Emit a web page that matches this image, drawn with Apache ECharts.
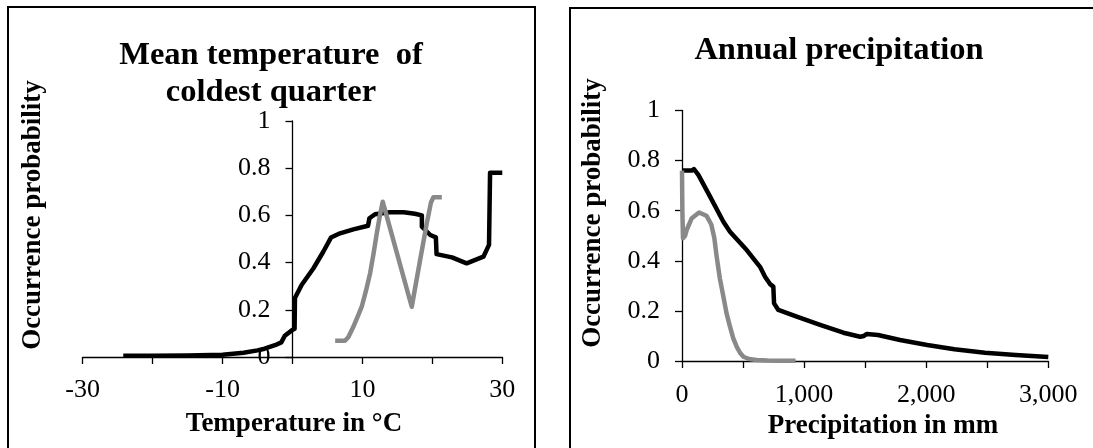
<!DOCTYPE html>
<html><head><meta charset="utf-8">
<script src="https://cdn.jsdelivr.net/npm/echarts@6/dist/echarts.min.js"></script>
<style>html,body{margin:0;padding:0;background:#fff}#c{width:1093px;height:448px}</style>
</head><body><div id="c"></div>
<script>
// ---- Left chart: Mean temperature of coldest quarter ----
const tempBlackT = [-24.2,-20,-15,-10,-7,-5,-4,-2.5,-1.6,-1.1,0.0,0.3,0.35,1.3,3.0,4.4,5.5,6.8,8.7,10.8,11.0,11.8,13.9,15.9,17.5,18.5,18.5,19.7,20.5,20.6,22.8,24.9,27.3,28.1,28.25,30.0];
const tempBlackP = [0.005,0.005,0.006,0.01,0.018,0.028,0.035,0.05,0.062,0.09,0.115,0.12,0.25,0.305,0.376,0.446,0.506,0.524,0.541,0.556,0.588,0.605,0.613,0.613,0.607,0.600,0.552,0.517,0.507,0.436,0.422,0.397,0.425,0.475,0.781,0.781];
const tempGrayT = [6.1,7.5,8.0,8.7,9.3,9.9,10.5,11.1,11.6,12.05,12.5,12.9,14.9,17.05,18.25,19.2,19.8,20.15,21.35];
const tempGrayP = [0.069,0.069,0.085,0.128,0.17,0.213,0.28,0.355,0.44,0.524,0.6,0.658,0.443,0.213,0.411,0.566,0.655,0.677,0.677];
const tempTickValues = [-30,-10,10,30];
const tempTickLabels = ['-30','-10','10','30'];

// ---- Right chart: Annual precipitation ----
const precBlackMM = [0,80,98,134,230,339,393,530,639,680,721,748,754,789,940,1131,1322,1459,1490,1514,1605,1786,2008,2231,2481,2732,3000];
const precBlackP = [0.760,0.760,0.766,0.743,0.656,0.556,0.516,0.443,0.376,0.336,0.307,0.297,0.23,0.204,0.177,0.144,0.113,0.097,0.1,0.108,0.104,0.084,0.064,0.047,0.033,0.024,0.016];
const precGrayMM = [0,3,8,25,40,80,140,200,240,265,284,310,339,365,393,420,448,475,503,550,612,700,800,930];
const precGrayP = [0.76,0.6,0.49,0.5,0.525,0.57,0.593,0.58,0.545,0.49,0.416,0.33,0.257,0.19,0.137,0.09,0.057,0.033,0.017,0.008,0.004,0.002,0.001,0.001];
const precTickValues = [0,1000,2000,3000];
const precTickLabels = ['0','1,000','2,000','3,000'];

const probTickLabels = ['0','0.2','0.4','0.6','0.8','1'];

const FONT = '"Liberation Serif","Times New Roman",serif';
const zip = (a,b) => a.map((v,i)=>[v,b[i]]);
const lab = (vals, labels) => v => { const i = vals.findIndex(t => Math.abs(t - v) < 1e-6); return i >= 0 ? labels[i] : ''; };

const axisCommon = {
  splitLine:{show:false},
  axisLine:{show:true, onZero:false, lineStyle:{color:'#000', width:1.3}},
  axisTick:{show:true, length:7, inside:false, lineStyle:{color:'#000', width:1.3}},
};

const chart = echarts.init(document.getElementById('c'), null, {renderer:'canvas'});
chart.setOption({
  animation:false,
  backgroundColor:'#fff',
  grid:[
    {left:82.7, top:121, width:419.6, height:236},
    {left:682, top:110.5, width:366.3, height:250.5}
  ],
  xAxis:[
    Object.assign({type:'value', gridIndex:0, min:-30, max:30, interval:10,
      axisLabel:{margin:20, color:'#000', fontFamily:FONT, fontSize:26, formatter:lab(tempTickValues,tempTickLabels)}}, axisCommon),
    Object.assign({type:'value', gridIndex:1, min:0, max:3000, interval:500,
      axisLabel:{margin:21, color:'#000', fontFamily:FONT, fontSize:26, formatter:lab(precTickValues,precTickLabels)}}, axisCommon)
  ],
  yAxis:[
    // y axis crosses the x axis at 0 °C
    Object.assign({}, axisCommon, {type:'value', gridIndex:0, min:0, max:1, interval:0.2, position:'left', offset:-209.8,
      axisLabel:{margin:22, color:'#000', fontFamily:FONT, fontSize:26, formatter:v=>probTickLabels[Math.round(v/0.2)]}}),
    Object.assign({}, axisCommon, {type:'value', gridIndex:1, min:0, max:1, interval:0.2,
      axisLabel:{margin:22, color:'#000', fontFamily:FONT, fontSize:26, formatter:v=>probTickLabels[Math.round(v/0.2)]}})
  ],
  series:[
    {type:'line', xAxisIndex:0, yAxisIndex:0, data:zip(tempBlackT,tempBlackP), showSymbol:false, clip:false,
      lineStyle:{color:'#000', width:4.5, join:'round', cap:'butt'}},
    {type:'line', xAxisIndex:0, yAxisIndex:0, data:zip(tempGrayT,tempGrayP), showSymbol:false, clip:false,
      lineStyle:{color:'#898989', width:4.5, join:'round', cap:'butt'}},
    {type:'line', xAxisIndex:1, yAxisIndex:1, data:zip(precBlackMM,precBlackP), showSymbol:false, clip:false,
      lineStyle:{color:'#000', width:4.5, join:'round', cap:'butt'}},
    {type:'line', xAxisIndex:1, yAxisIndex:1, data:zip(precGrayMM,precGrayP), showSymbol:false, clip:false,
      lineStyle:{color:'#898989', width:4.5, join:'round', cap:'butt'}}
  ],
  graphic:[
    {type:'rect', shape:{x:8, y:7, width:527, height:470}, style:{fill:'none', stroke:'#000', lineWidth:2}, silent:true},
    {type:'rect', shape:{x:570, y:8, width:600, height:470}, style:{fill:'none', stroke:'#000', lineWidth:2}, silent:true},
    {type:'text', x:271, y:37, style:{text:'Mean temperature  of\ncoldest quarter', fontFamily:FONT, fontSize:32.5, fontWeight:'bold', lineHeight:37, fill:'#000', align:'center', verticalAlign:'top'}, silent:true},
    {type:'text', x:839, y:51, style:{text:'Annual precipitation', fontFamily:FONT, fontSize:32.5, fontWeight:'bold', fill:'#000', align:'center', verticalAlign:'middle'}, silent:true},
    {type:'text', x:294, y:424, style:{text:'Temperature in °C', fontFamily:FONT, fontSize:27, fontWeight:'bold', fill:'#000', align:'center', verticalAlign:'middle'}, silent:true},
    {type:'text', x:883, y:426, style:{text:'Precipitation in mm', fontFamily:FONT, fontSize:27, fontWeight:'bold', fill:'#000', align:'center', verticalAlign:'middle'}, silent:true},
    {type:'text', x:33, y:215, rotation:Math.PI/2, style:{text:'Occurrence probability', fontFamily:FONT, fontSize:27, fontWeight:'bold', fill:'#000', align:'center', verticalAlign:'middle'}, silent:true},
    {type:'text', x:593, y:213, rotation:Math.PI/2, style:{text:'Occurrence probability', fontFamily:FONT, fontSize:27, fontWeight:'bold', fill:'#000', align:'center', verticalAlign:'middle'}, silent:true}
  ]
});
</script>
</body></html>
